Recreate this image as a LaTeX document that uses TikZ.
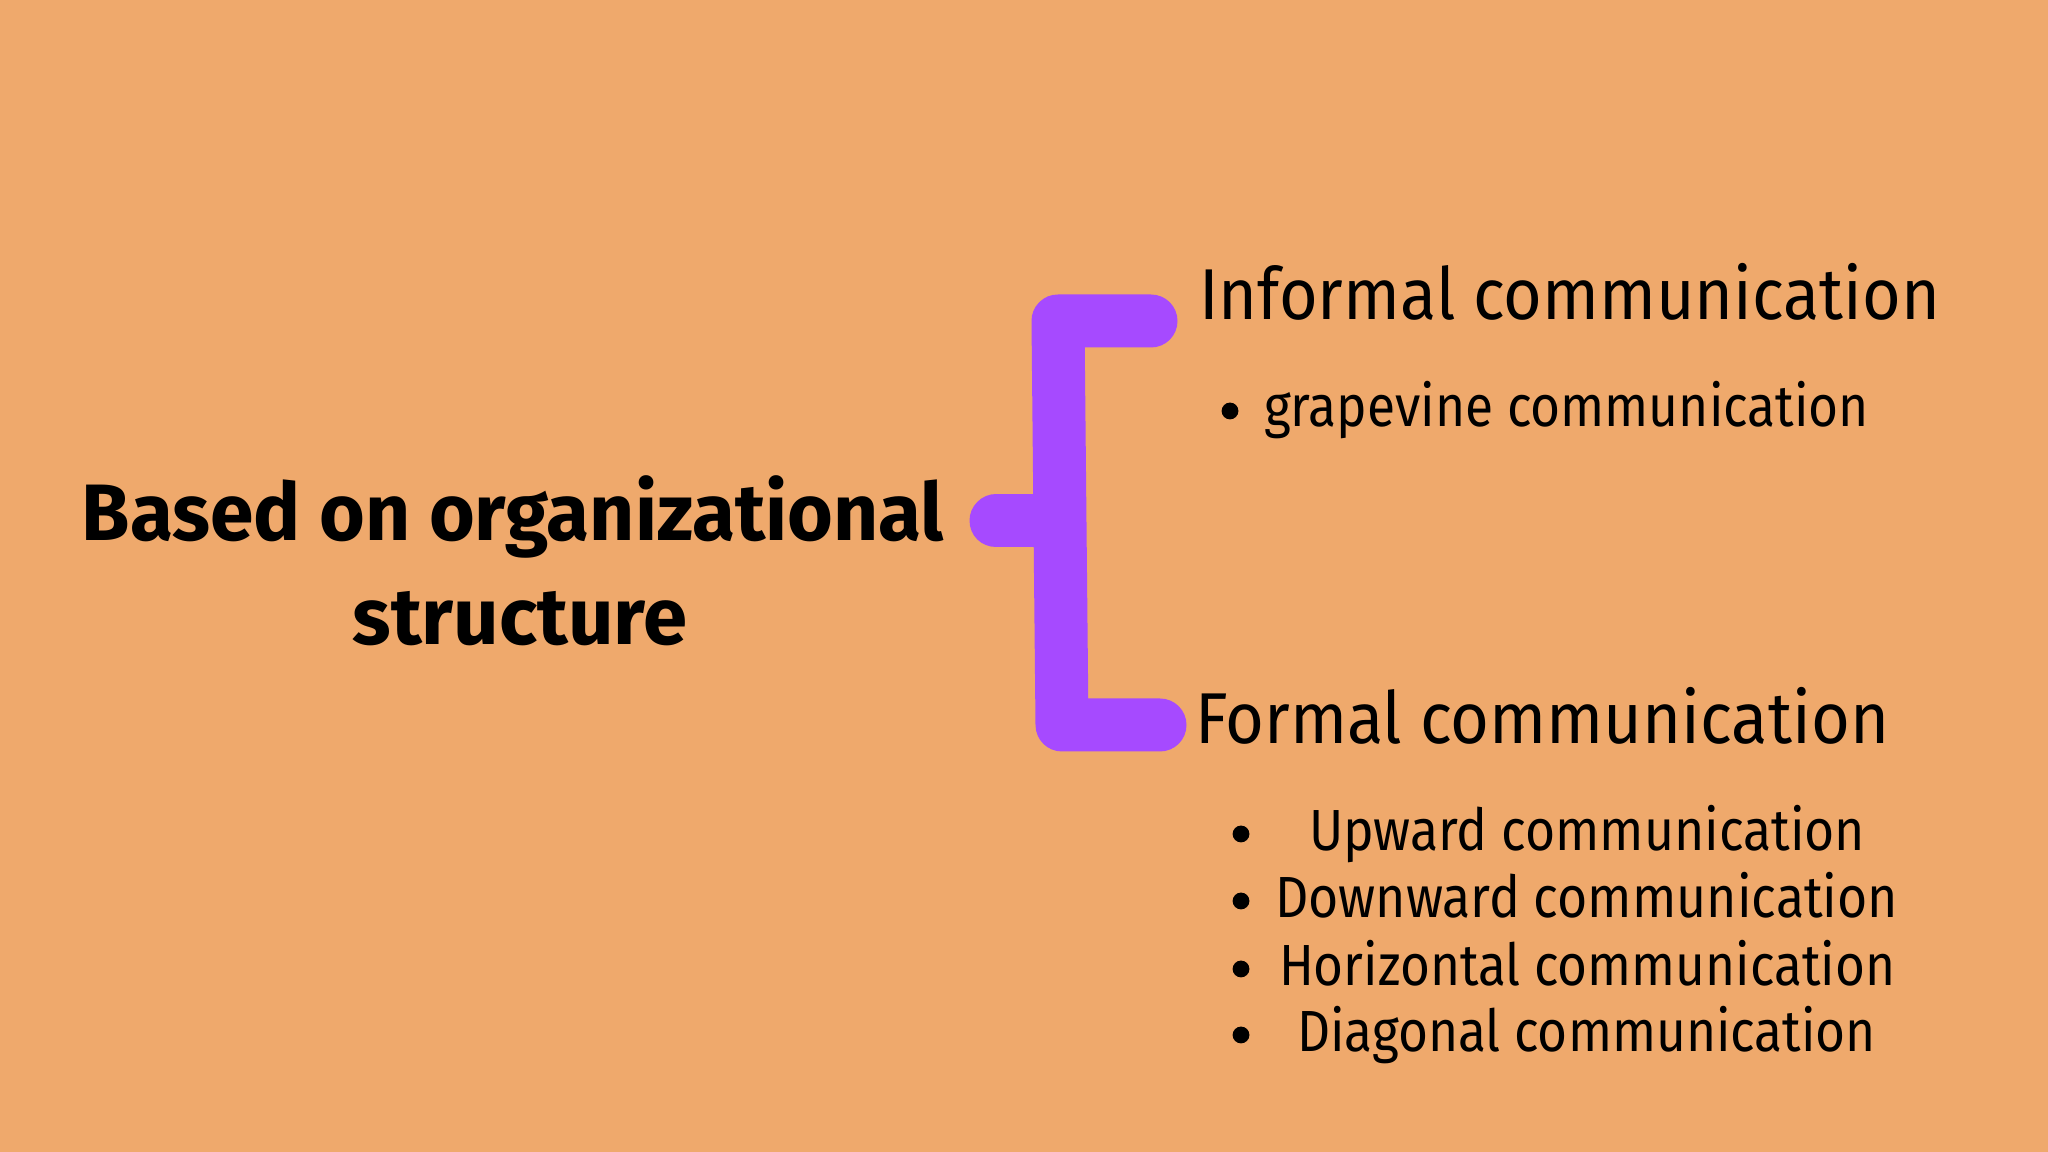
\documentclass[tikz,border=0pt]{standalone}
\usepackage{fontspec}
\setmainfont{Fira Sans}
\definecolor{bgorange}{RGB}{239,169,108}
\definecolor{brpurple}{RGB}{166,74,255}
\newcommand{\fitto}[2]{\resizebox{#1pt}{\height}{#2}}
\begin{document}
\begin{tikzpicture}[x=0.25pt,y=-0.25pt,
  txt/.style={inner sep=0pt,outer sep=0pt,text=black,anchor=base west},
  headtxt/.style={txt,font=\fontsize{18}{20}\selectfont},
  itemtxt/.style={txt,font=\fontsize{14.5}{16}\selectfont},
  bul/.style={circle,fill=black,inner sep=0pt,outer sep=0pt,minimum size=4.2pt},
  titletxt/.style={inner sep=0pt,outer sep=0pt,anchor=base,font=\fontsize{20}{24}\selectfont\bfseries},
  brace/.style={draw=brpurple,line width=13.25pt,line cap=round,line join=round}]
\fill[bgorange] (0,0) rectangle (2048,1152);
\useasboundingbox (0,0) rectangle (2048,1152);
% bracket
\coordinate (tA) at (1151,321);
\coordinate (tC) at (1058,321);
\coordinate (bC) at (1062,725);
\coordinate (bA) at (1160,725);
\coordinate (nA) at (996,521);
\coordinate (nC) at (1059,521);
\draw[brace] (tA) -- (tC) -- (bC) -- (bA);
\draw[brace] (nA) -- (nC);
% title
\node[titletxt] (t1) at (513,541) {\fitto{215.5}{Based on organizational}};
\node[titletxt] (t2) at (520,645) {\fitto{83.75}{structure}};
% informal
\node[headtxt] (inf) at (1199,320) {\fitto{185.25}{Informal communication}};
\node[bul] (b0) at (1230,411) {};
\node[itemtxt] (grape) at (1264,427) {\fitto{151.25}{grapevine communication}};
% formal
\node[headtxt] (form) at (1195,744) {\fitto{173.5}{Formal communication}};
\node[bul] (b1) at (1241,834) {};
\node[itemtxt] (up) at (1309,851) {\fitto{139}{Upward communication}};
\node[bul] (b2) at (1241,901) {};
\node[itemtxt] (down) at (1275,918) {\fitto{155.75}{Downward communication}};
\node[bul] (b3) at (1241,969) {};
\node[itemtxt] (hor) at (1279,986) {\fitto{154}{Horizontal communication}};
\node[bul] (b4) at (1241,1035) {};
\node[itemtxt] (diag) at (1297,1052) {\fitto{144.75}{Diagonal communication}};
\end{tikzpicture}
\end{document}
